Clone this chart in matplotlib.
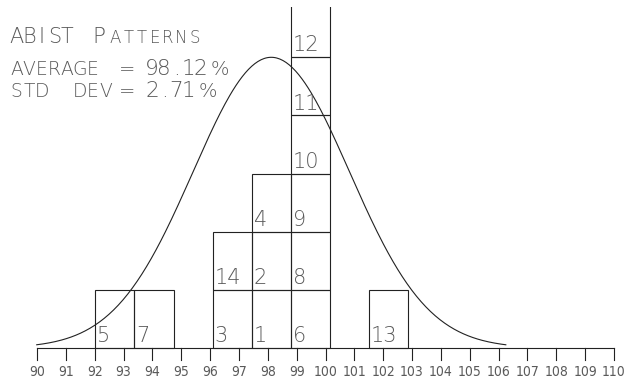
import numpy as np
import matplotlib
matplotlib.use('Agg')
import matplotlib.pyplot as plt
from matplotlib.patches import Rectangle

# summary statistics of the ABIST pattern results (%)
mean = 98.12
std_dev = 2.71

# pattern number and the half-sigma bin it falls in (0 = bin centred on the mean)
patterns = [1, 2, 3, 4, 5, 6, 7, 8, 9, 10, 11, 12, 13, 14]
bins = [0, 0, -1, 0, -4, 1, -3, 1, 1, 1, 1, 1, 3, -1]

tick_values = list(range(90, 111))
curve_peak = 5.0

W, H = 632, 381
ink = '#222222'
pencil = '#5a5a5a'

fig = plt.figure(figsize=(W / 100, H / 100), dpi=100)
fig.patch.set_facecolor('white')

# one x unit = 28.85 px, one stacked box = 58.14 px, baseline at y = 348 px
ax = fig.add_axes([0, 0, 1, 374 / H])
ax.set_xlim(90 - 37 / 28.85, 90 + (W - 37) / 28.85)
ax.set_ylim((348 - H) / 58.14, (348 - 7) / 58.14)
ax.axis('off')

# stacked boxes, half a std dev wide
width = std_dev / 2
heights = {}
for p, b in zip(patterns, bins):
    left = mean + (b - 0.5) * width
    level = heights.get(b, 0)
    ax.add_patch(Rectangle((left, level), width, 1, fill=False,
                           edgecolor=ink, lw=0.8))
    ax.text(left + 0.07, level + 0.10, str(p), ha='left', va='baseline',
            fontsize=15, color=pencil, family='DejaVu Sans',
            fontweight='light')
    heights[b] = level + 1

# normal curve over +/- 3 sigma
z = np.linspace(-3, 3, 300)
ax.plot(mean + z * std_dev, curve_peak * np.exp(-0.5 * z ** 2), color=ink, lw=0.8)

# axis line with ticks below
ax.plot([tick_values[0], tick_values[-1]], [0, 0], color=ink, lw=0.8)
for t in tick_values:
    ax.plot([t, t], [0, -12 / 58.14], color=ink, lw=0.8)
    ax.text(t, -24 / 58.14, str(t), ha='center', va='center',
            fontsize=10, color=pencil, family='DejaVu Sans',
            fontweight='light', fontstretch='condensed')


def plotter_text(x, y, s, size, pitch):
    # centre each character in a fixed-pitch cell, like a pen plotter font
    for i, ch in enumerate(s):
        if ch == ' ':
            continue
        fig.text((x + i * pitch) / W, 1 - y / H, ch, ha='center', va='baseline',
                 fontsize=size, color=pencil, family='DejaVu Sans',
                 fontweight='light')


def stat_line(y, label, value):
    plotter_text(16.5, y, label, 13.5, 12.7)
    plotter_text(127, y, '=', 14, 12)
    digits = '%.2f' % value
    plotter_text(152, y, digits, 15.5, 12.2)
    plotter_text(152 + len(digits) * 12.2 + 7, y, '%', 14, 12)


plotter_text(16, 43, 'ABIST', 15, 12.8)
plotter_text(99, 43, 'P', 15.5, 12)
plotter_text(115, 43, 'ATTERNS', 12, 13.25)
stat_line(75, 'AVERAGE', mean)
stat_line(97, 'STD  DEV', std_dev)

fig.savefig('out.png', dpi=100, facecolor='white')
